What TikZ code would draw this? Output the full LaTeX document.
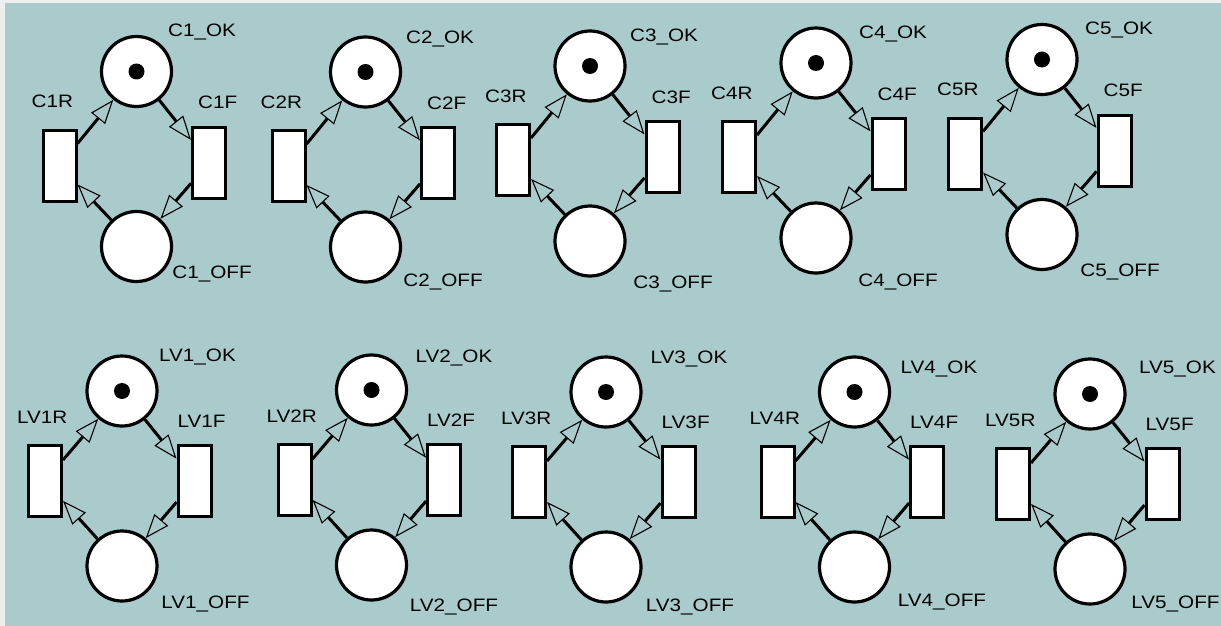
\documentclass[tikz,border=0pt]{standalone}
\usepackage{fontspec}
\newfontfamily\netfont[FakeStretch=1.15]{Liberation Sans}
\usetikzlibrary{arrows.meta}
\definecolor{netbg}{RGB}{170,203,203}
\definecolor{framegray}{RGB}{238,238,238}

\begin{document}
\begin{tikzpicture}[
    x=1pt, y=-1pt,
    place/.style={circle, draw, line width=3.2pt, fill=white, minimum size=70pt, inner sep=0pt},
    trans/.style={rectangle, draw, line width=3pt, fill=white, minimum width=33pt, minimum height=71pt, inner sep=0pt},
    arc/.style={-{Triangle[open, length=24pt, width=18pt, line width=1.1pt]}, line width=3pt},
    lbl/.style={font=\netfont\fontsize{18}{20}\selectfont, inner sep=0pt, text height=12.9pt, text depth=0pt}
]
\useasboundingbox (0,0) rectangle (1221,626);
\fill[framegray] (0,0) rectangle (1221,626);
\fill[netbg] (5,3) rectangle (1221,626);
% net / OK place / R and F drop / F label shift / OK label / OFF label
\foreach \n/\x/\y/\rdy/\fdy/\fs/\okx/\oky/\offx/\offy in {
    C1/136.5/71.5/94/91/7/202/30/212/272,
    C2/365.5/72/94/91/7/440/37/443/280,
    C3/590/66/94/91/7/664/35/673/282,
    C4/816/63/94/91/7/893/32/898/280,
    C5/1042/59.5/94/91/7/1119/28.5/1120/270,
    LV1/122/391/90/90/1/197.5/355.5/205.5/602,
    LV2/371.5/390/90/90/1/454/356/454/605,
    LV3/606/392/90/90/1/689/357/690/605,
    LV4/854.5/392/90/90/1/939/367/942/600,
    LV5/1090/394/90/90/1/1177.5/367.5/1175.5/602.5}
{
    \node[place] (\n ok) at (\x,\y) {};
    \fill (\n ok) circle (8pt);
    \node[place] (\n off) at ([shift={(0,175)}]\n ok) {};
    \node[trans] (\n r) at ([shift={(-77,\rdy)}]\n ok) {};
    \node[trans] (\n f) at ([shift={(72.5,\fdy)}]\n ok) {};
    \node[lbl] (\n okl) at (\okx,\oky) {\n\_OK};
    \node[lbl] (\n offl) at (\offx,\offy) {\n\_OFF};
    \node[lbl, anchor=west] (\n rl) at ([shift={(-10,-64)}]\n r.west) {\n R};
    \node[lbl, anchor=west] (\n fl) at ([shift={(\fs,-60)}]\n f.west) {\n F};
    \draw[arc] (\n r) -- (\n ok);
    \draw[arc] (\n ok) -- (\n f);
    \draw[arc] (\n f) -- (\n off);
    \draw[arc] (\n off) -- (\n r);
}
\end{tikzpicture}
\end{document}
